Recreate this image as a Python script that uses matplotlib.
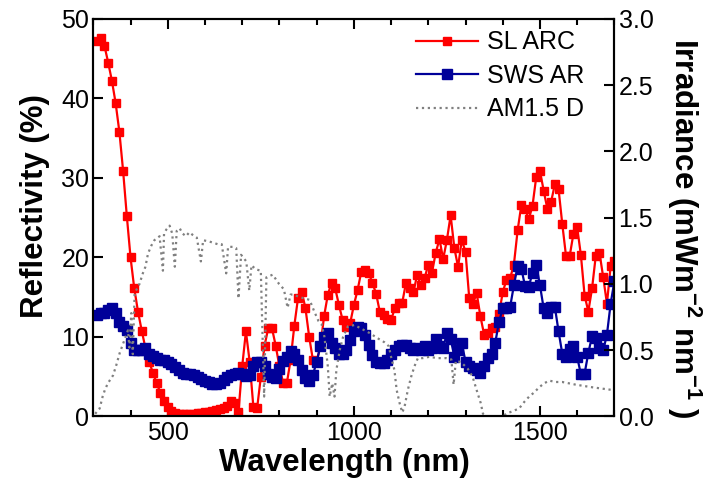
import numpy as np
import matplotlib
matplotlib.use("Agg")
import matplotlib.pyplot as plt
from matplotlib.ticker import MultipleLocator
from matplotlib.lines import Line2D

plt.rcParams['font.family'] = ['Liberation Sans', 'DejaVu Sans']
plt.rcParams['mathtext.fontset'] = 'custom'
plt.rcParams['mathtext.rm'] = 'Liberation Sans'
plt.rcParams['mathtext.bf'] = 'Liberation Sans:bold'

# reflectivity spectra, 10 nm steps
wl_refl = np.arange(310, 1701, 10)

sl_arc = [
    47.2, 47.6, 46.6, 44.5, 42.2, 39.4, 35.8, 30.9, 25.2, 20.0,   # 310-400
    16.1, 13.2, 10.8, 8.6, 6.9, 5.5, 4.2, 3.0, 2.0, 1.2,          # 410-500
    0.7, 0.4, 0.3, 0.3, 0.3, 0.3, 0.3, 0.4, 0.4, 0.5,             # 510-600
    0.6, 0.7, 0.8, 0.9, 1.1, 1.3, 1.9, 1.7, 0.6, 6.3,             # 610-700
    10.7, 6.9, 1.2, 1.0, 5.0, 8.9, 11.1, 11.1, 8.9, 6.3,          # 710-800
    4.2, 4.2, 7.1, 11.4, 14.9, 15.7, 13.6, 10.0, 7.1, 6.9,        # 810-900
    8.8, 12.6, 15.3, 16.8, 16.1, 14.0, 12.1, 11.3, 11.7, 14.0,    # 910-1000
    15.9, 18.2, 18.4, 18.0, 16.8, 15.4, 13.1, 12.8, 12.2, 12.1,   # 1010-1100
    13.6, 14.3, 14.3, 16.8, 16.1, 15.6, 17.8, 16.5, 17.4, 19.1,   # 1110-1200
    18.1, 20.6, 22.3, 19.8, 22.2, 25.3, 21.2, 18.8, 22.2, 20.7,   # 1210-1300
    14.9, 14.2, 15.5, 12.6, 10.3, 10.5, 11.1, 11.3, 12.9, 15.6,   # 1310-1400
    17.2, 17.4, 19.1, 23.4, 26.6, 26.1, 24.8, 26.5, 30.1, 30.9,   # 1410-1500
    28.4, 26.1, 27.0, 29.2, 28.6, 24.2, 20.2, 20.2, 23.0, 23.8,   # 1510-1600
    20.3, 15.2, 13.2, 16.1, 20.2, 20.6, 17.5, 14.2, 18.9, 19.5,   # 1610-1700
]

sws_ar = [
    12.7, 13.0, 13.0, 13.4, 13.7, 13.0, 11.9, 11.4, 10.9, 9.2,    # 310-400
    8.4, 8.4, 8.4, 8.6, 7.9, 7.6, 7.3, 7.1, 7.1, 6.9,             # 410-500
    6.6, 6.2, 5.8, 5.5, 5.4, 5.4, 5.2, 5.0, 4.7, 4.5,             # 510-600
    4.3, 4.1, 4.1, 4.2, 4.6, 5.0, 5.2, 5.4, 5.5, 5.4,             # 610-700
    5.1, 5.2, 6.3, 6.8, 6.9, 6.3, 5.4, 5.0, 4.8, 6.0,             # 710-800
    7.0, 7.5, 8.2, 7.9, 7.1, 5.8, 4.8, 4.4, 5.2, 6.9,             # 810-900
    8.8, 10.0, 10.5, 9.2, 8.6, 7.9, 7.9, 8.4, 9.6, 10.7,          # 910-1000
    11.3, 11.1, 10.3, 9.0, 7.7, 6.9, 6.7, 6.7, 7.1, 7.9,          # 1010-1100
    8.4, 8.8, 9.0, 9.0, 8.6, 8.4, 8.6, 8.4, 8.8, 8.4,             # 1110-1200
    8.6, 9.8, 8.8, 8.6, 10.5, 9.8, 7.5, 8.4, 9.2, 6.9,            # 1210-1300
    6.3, 6.1, 5.9, 5.5, 6.4, 7.3, 7.9, 9.3, 11.9, 13.6,           # 1310-1400
    13.6, 13.8, 16.5, 18.9, 18.6, 16.4, 16.3, 18.1, 19.1, 16.5,   # 1410-1500
    13.6, 13.0, 13.8, 13.8, 10.7, 7.9, 7.5, 8.5, 8.9, 7.5,        # 1510-1600
    5.3, 5.4, 8.0, 10.1, 9.9, 8.6, 8.3, 10.3, 14.2, 17.0,         # 1610-1700
]

# AM1.5 direct irradiance (mW m^-2 nm^-1 axis)
wl_am15 = [
    305, 317, 325, 331, 339, 353, 362, 371, 384, 393, 397, 402, 406, 411,
    424, 433, 440, 447, 456, 464, 478, 487, 490, 496, 505, 512, 519, 524,
    532, 540, 549, 558, 567, 578, 589, 595, 612, 634, 645, 657, 662, 675,
    684, 690, 697, 711, 719, 725, 737, 750, 759, 765, 782, 799, 812, 822,
    830, 837, 855, 881, 894, 905, 913, 921, 930, 935, 942, 948, 953, 962,
    971, 984, 1002, 1015, 1042, 1064, 1082, 1094, 1100, 1109, 1115, 1123,
    1130, 1136, 1145, 1154, 1163, 1172, 1185, 1203, 1225, 1248, 1262, 1268,
    1274, 1288, 1306, 1319, 1332, 1341, 1347, 1360, 1380, 1400, 1409, 1427,
    1444, 1458, 1471, 1484, 1498, 1511, 1525, 1543, 1560, 1578, 1596, 1618,
    1641, 1667, 1694,
]
am15 = [
    0.02, 0.06, 0.15, 0.20, 0.25, 0.31, 0.39, 0.48, 0.58, 0.65, 0.52, 0.78, 0.47, 0.93,
    1.00, 1.08, 1.13, 1.23, 1.29, 1.33, 1.36, 1.10, 1.38, 1.41, 1.44, 1.38, 1.13, 1.40,
    1.42, 1.38, 1.36, 1.39, 1.37, 1.35, 1.17, 1.33, 1.32, 1.30, 1.30, 1.08, 1.28, 1.28,
    1.27, 0.89, 1.22, 1.17, 0.95, 1.14, 1.11, 1.10, 0.15, 1.05, 1.07, 1.00, 0.96, 0.82,
    0.92, 0.92, 0.90, 0.88, 0.79, 0.72, 0.70, 0.60, 0.38, 0.15, 0.25, 0.15, 0.35, 0.50,
    0.60, 0.68, 0.69, 0.67, 0.63, 0.59, 0.56, 0.53, 0.45, 0.35, 0.20, 0.10,
    0.03, 0.07, 0.20, 0.30, 0.38, 0.44, 0.44, 0.45, 0.44, 0.44, 0.43, 0.24,
    0.42, 0.41, 0.36, 0.30, 0.18, 0.10, 0.02, 0.00, 0.00, 0.00, 0.02, 0.04,
    0.06, 0.11, 0.15, 0.18, 0.22, 0.25, 0.27, 0.26, 0.26, 0.25, 0.24, 0.23,
    0.22, 0.21, 0.20,
]

red = '#ff0000'
navy = '#000099'
grey = '#808080'

fig = plt.figure(figsize=(7.07, 4.82), dpi=100)
ax = fig.add_axes([0.132, 0.136, 0.737, 0.8247])

ax.plot(wl_refl, sl_arc, '-s', color=red, lw=1.6, ms=5.5, mec=red, zorder=2)
ax.plot(wl_refl, sws_ar, '-s', color=navy, lw=1.6, ms=7.5, mec=navy, zorder=3)

ax.set_xlim(300, 1700)
ax.set_ylim(0, 50)
ax.xaxis.set_major_locator(MultipleLocator(500))
ax.xaxis.set_minor_locator(MultipleLocator(100))
ax.yaxis.set_major_locator(MultipleLocator(10))
ax.tick_params(which='both', direction='in', top=True, right=False, labelsize=18, width=1.5)
ax.tick_params(which='major', length=7, pad=3)
ax.tick_params(which='minor', length=4)

ax2 = ax.twinx()
ax2.plot(wl_am15, am15, ':', color=grey, lw=1.6)
ax2.set_ylim(0, 3.0)
ax2.yaxis.set_major_locator(MultipleLocator(0.5))
ax2.yaxis.set_major_formatter(plt.FormatStrFormatter('%.1f'))
ax2.tick_params(direction='in', labelsize=18, width=1.5, length=7, pad=3)

for a in (ax, ax2):
    for sp in a.spines.values():
        sp.set_linewidth(1.5)

fig.text(344 / 707, 1 - 463 / 482, 'Wavelength (nm)', ha='center', va='center',
         fontsize=22.5, fontweight='bold')
fig.text(35 / 707, 1 - 206 / 482, 'Reflectivity (%)', ha='center', va='center',
         rotation=90, fontsize=22.5, fontweight='bold')
fig.text(684 / 707, 1 - 228 / 482,
         r'Irradiance (mWm$^{\mathbf{-2}}$ nm$^{\mathbf{-1}}$ )',
         ha='center', va='center', rotation=270, fontsize=22.5, fontweight='bold')

handles = [
    Line2D([], [], color=red, lw=1.6, marker='s', ms=5.5),
    Line2D([], [], color=navy, lw=1.6, marker='s', ms=7.5),
    Line2D([], [], color=grey, lw=1.6, ls=':'),
]
ax2.legend(handles, ['SL ARC', 'SWS AR', 'AM1.5 D'], loc='upper left',
           bbox_to_anchor=(0.604, 0.99), frameon=False, fontsize=18,
           handlelength=2.5, handletextpad=0.35, labelspacing=0.38,
           borderpad=0.3, borderaxespad=0, numpoints=1)

fig.savefig('out.png', dpi=100)
